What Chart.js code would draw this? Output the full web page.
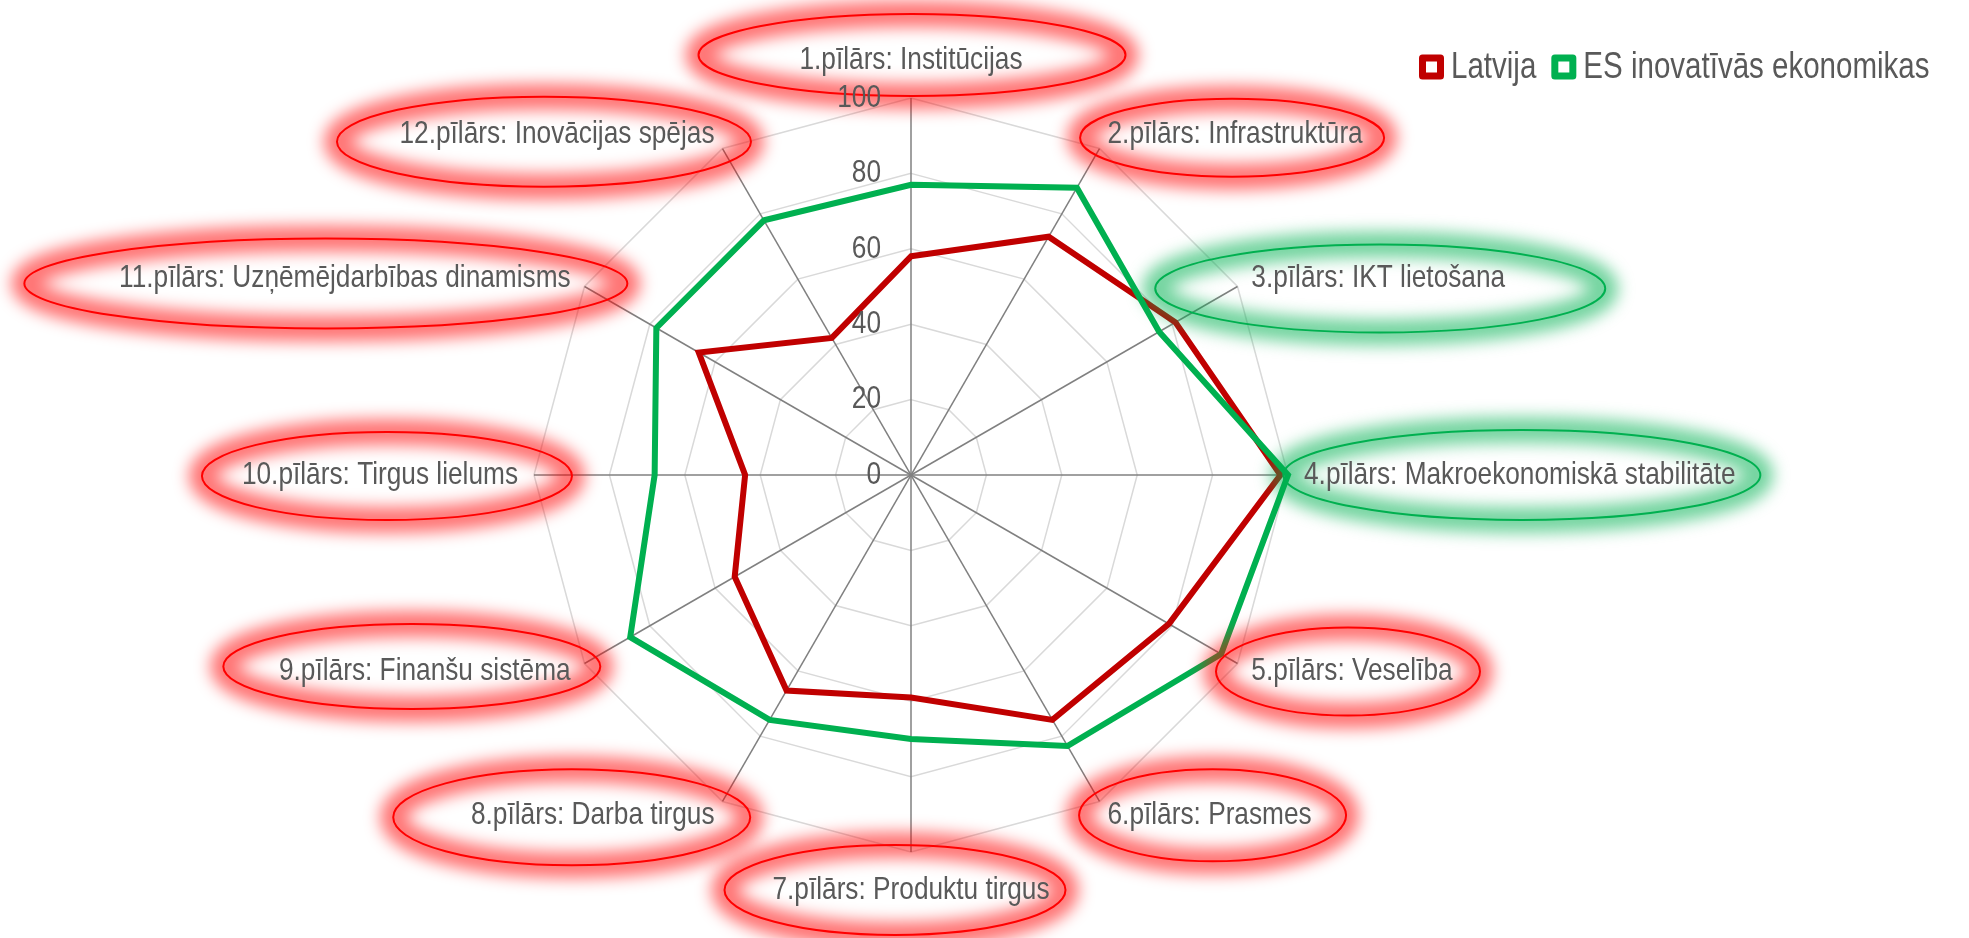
<!DOCTYPE html>
<html>
<head>
<meta charset="utf-8">
<title>Konkurētspējas pīlāri</title>
<script src="https://cdn.jsdelivr.net/npm/chart.js@4.4.1/dist/chart.umd.min.js"></script>
<style>
  html, body { margin: 0; padding: 0; background: #ffffff; }
  #wrap { width: 1969px; height: 938px; position: relative; }
</style>
</head>
<body>
<div id="wrap"><canvas id="radarChart"></canvas></div>
<script>
const pillars = [
  '1.pīlārs: Institūcijas',
  '2.pīlārs: Infrastruktūra',
  '3.pīlārs: IKT lietošana',
  '4.pīlārs: Makroekonomiskā stabilitāte',
  '5.pīlārs: Veselība',
  '6.pīlārs: Prasmes',
  '7.pīlārs: Produktu tirgus',
  '8.pīlārs: Darba tirgus',
  '9.pīlārs: Finanšu sistēma',
  '10.pīlārs: Tirgus lielums',
  '11.pīlārs: Uzņēmējdarbības dinamisms',
  '12.pīlārs: Inovācijas spējas'
];
const latvija = [58, 73, 81, 98, 79, 75, 59, 66, 54, 44, 65, 42];
const esInnov = [77, 88, 76, 100, 95, 83, 70, 75, 86, 68, 78, 78];
const seriesNames = ['Latvija', 'ES inovatīvās ekonomikas'];
const tickStep = 20;

// which pillars are circled in green (the rest in red)
const greenRing = [false, false, true, true, false, false, false, false, false, false, false, false];
// hand drawn ellipses: offset from label centre, width, height
const rings = [
  [1, -5, 427, 82], [-3, 3, 304, 78], [2, 10, 450, 88], [2, 0, 477, 90],
  [-4, 0, 264, 88], [3, 0, 267, 92], [-16, 0, 341, 90], [-21, 2, 357, 96],
  [-13, -5, 377, 85], [7, 1, 370, 88], [-19, 5, 603, 90], [-13, 7, 414, 90]
];

const RED = '#C00000';
const GREEN = '#00B050';
const TEXT = '#595959';
const FONT = "'Liberation Sans', Arial, sans-serif";
const NARROW = 0.82; // Arial Narrow look

function narrowText(ctx, text, x, y, align) {
  const w = ctx.measureText(text).width * NARROW;
  let left = x;
  if (align === 'center') left = x - w / 2;
  else if (align === 'right') left = x - w;
  ctx.save();
  ctx.translate(left, y);
  ctx.scale(NARROW, 1);
  ctx.textAlign = 'left';
  ctx.textBaseline = 'middle';
  ctx.fillText(text, 0, 0);
  ctx.restore();
  return w;
}

const excelDecor = {
  id: 'excelDecor',
  afterDraw(chart) {
    const ctx = chart.ctx;
    const r = chart.scales.r;
    ctx.save();

    // category labels with their circled highlights
    ctx.font = '32px ' + FONT;
    pillars.forEach((name, i) => {
      const p = r.getPointPosition(i, r.drawingArea + 16);
      const w = ctx.measureText(name).width * NARROW;
      const dx = p.x - r.xCenter;
      let cx = p.x, cy = p.y;
      if (Math.abs(dx) < 1) {
        cy += p.y < r.yCenter ? -22 : 22;
      } else if (dx > 0) {
        cx = p.x + w / 2;
      } else {
        cx = p.x - w / 2;
      }
      const ring = rings[i];
      const ex = cx + ring[0], ey = cy + ring[1];
      const col = greenRing[i] ? '0,176,80' : '255,0,0';

      ctx.beginPath();
      ctx.ellipse(ex, ey, ring[2] / 2, ring[3] / 2, 0, 0, Math.PI * 2);
      ctx.filter = 'blur(8px)';
      ctx.lineWidth = 26;
      ctx.strokeStyle = 'rgba(' + col + ',0.55)';
      ctx.stroke();
      ctx.filter = 'none';
      ctx.lineWidth = 2;
      ctx.strokeStyle = 'rgb(' + col + ')';
      ctx.stroke();

      ctx.fillStyle = TEXT;
      narrowText(ctx, name, cx, cy, 'center');
    });

    // value ticks on the vertical axis (0 included)
    ctx.font = '32px ' + FONT;
    ctx.fillStyle = TEXT;
    r.ticks.forEach(t => {
      const p = r.getPointPositionForValue(0, t.value);
      narrowText(ctx, t.label, r.xCenter - 30, p.y, 'right');
    });

    // legend
    ctx.font = '36px ' + FONT;
    let x = 1419;
    const y = 67;
    chart.data.datasets.forEach(ds => {
      ctx.lineWidth = 7;
      ctx.strokeStyle = ds.borderColor;
      ctx.lineJoin = 'round';
      ctx.strokeRect(x + 3.5, y - 9, 18, 18);
      ctx.fillStyle = TEXT;
      const w = narrowText(ctx, ds.label, x + 32, y + 1, 'left');
      x += 32 + w + 15;
    });
    ctx.restore();
  }
};

const ctx = document.getElementById('radarChart').getContext('2d');
const radarChart = new Chart(ctx, {
  type: 'radar',
  data: {
    labels: pillars,
    datasets: [
      {
        label: seriesNames[0],
        data: latvija,
        borderColor: RED,
        backgroundColor: RED,
        borderWidth: 6,
        pointRadius: 0,
        fill: false,
        order: 1
      },
      {
        label: seriesNames[1],
        data: esInnov,
        borderColor: GREEN,
        backgroundColor: GREEN,
        borderWidth: 6,
        pointRadius: 0,
        fill: false,
        order: 0
      }
    ]
  },
  options: {
    responsive: true,
    maintainAspectRatio: false,
    animation: false,
    layout: { padding: { left: 534, right: 681, top: 13, bottom: 0 } },
    plugins: {
      legend: { display: false },
      tooltip: { enabled: false }
    },
    scales: {
      r: {
        min: 0,
        max: 100,
        ticks: { stepSize: tickStep, display: false },
        grid: { color: '#d9d9d9', lineWidth: 1.5 },
        angleLines: { color: '#808080', lineWidth: 1.5 },
        pointLabels: { display: false }
      }
    }
  },
  plugins: [excelDecor]
});
</script>
</body>
</html>
